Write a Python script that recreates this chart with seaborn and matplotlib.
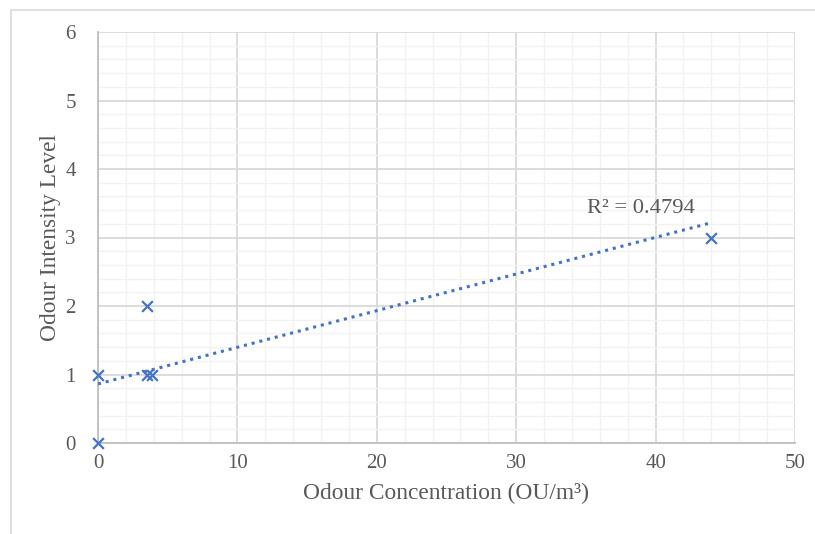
import matplotlib
matplotlib.use('Agg')
import matplotlib.pyplot as plt
import seaborn as sns
import pandas as pd
import numpy as np
from matplotlib.ticker import MultipleLocator
from matplotlib.patches import Rectangle

# data
concentration = [0, 0, 3.5, 3.5, 3.9, 44]
intensity = [0, 1, 2, 1, 1, 3]

# trendline as drawn in the reference (Excel linear trend)
trend_slope = 0.0535
trend_intercept = 0.862
trend_x = [0, 44]
r2_label = 'R\u00b2 = 0.4794'

x_ticks = [0, 10, 20, 30, 40, 50]
y_ticks = [0, 1, 2, 3, 4, 5, 6]

df = pd.DataFrame({'conc': concentration, 'level': intensity})

sns.set_style('white')
plt.rcParams['font.family'] = ['Liberation Serif', 'DejaVu Serif']

blue = '#4472C4'
text_grey = '#595959'

fig = plt.figure(figsize=(8.15, 5.34), dpi=100)
ax = fig.add_axes([98 / 815, 1 - 443 / 534, (795 - 98) / 815, (443 - 32) / 534])

# outer chart border
fig.patches.append(Rectangle((11 / 815, -0.05), 1.1, 1 - 10 / 534 + 0.05,
                             transform=fig.transFigure, fill=False,
                             edgecolor='#d9d9d9', linewidth=1.2, zorder=0))

# trendline
tx = np.array(trend_x, dtype=float)
ax.plot(tx, trend_intercept + trend_slope * tx, linestyle=(0, (1, 1.6)),
        color=blue, linewidth=2.2, zorder=3)

sns.scatterplot(data=df, x='conc', y='level', marker='x', color=blue,
                s=60, linewidth=1.6, ax=ax, zorder=4, clip_on=False)

ax.text(35.1, 3.43, r2_label, fontsize=16.2, color=text_grey,
        ha='left', va='center')

ax.set_xlim(0, 50)
ax.set_ylim(0, 6)
ax.set_xticks(x_ticks)
ax.set_yticks(y_ticks)
ax.xaxis.set_minor_locator(MultipleLocator(2))
ax.yaxis.set_minor_locator(MultipleLocator(0.2))
ax.grid(which='major', color='#d9d9d9', linewidth=1.3)
ax.grid(which='minor', color='#f2f2f2', linewidth=1.0)
ax.set_axisbelow(True)

for side in ['top', 'right']:
    ax.spines[side].set_visible(False)
for side in ['left', 'bottom']:
    ax.spines[side].set_color('#bfbfbf')
    ax.spines[side].set_linewidth(1.3)

ax.tick_params(axis='both', which='both', length=0, labelsize=15,
               labelcolor=text_grey)
ax.tick_params(axis='y', pad=16)
ax.tick_params(axis='x', pad=8)

ax.set_xlabel('Odour Concentration (OU/m\u00b3)', fontsize=16.8, color=text_grey,
              labelpad=7)
ax.set_ylabel('Odour Intensity Level', fontsize=16.8, color=text_grey,
              labelpad=3)

fig.savefig('out.png', dpi=100)
